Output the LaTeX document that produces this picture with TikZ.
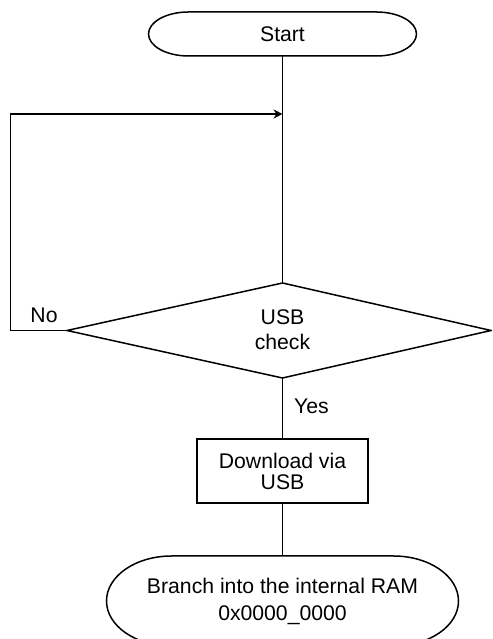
\documentclass[tikz,border=0pt]{standalone}
\usepackage{fontspec}
\setmainfont{Liberation Sans}
\usetikzlibrary{arrows.meta}
\tikzset{
  wire/.style={line width=1.5pt, line join=miter},
  lbl/.style={inner sep=0pt, outer sep=0pt, align=center, font=\fontsize{21.2pt}{25pt}\selectfont},
  tip/.style={-{Stealth[length=9pt,width=9pt,inset=3pt]}}
}
\begin{document}
\begin{tikzpicture}[x=1pt,y=1pt]
\clip (0,0) rectangle (492,639);
% Start terminator
\node[lbl, minimum width=268pt, minimum height=44pt] (start) at (282.5,605) {Start};
\draw[wire] ([xshift=40pt]start.north west) -- ([xshift=-40pt]start.north east)
  arc[start angle=90,end angle=-90,x radius=40pt,y radius=22pt]
  -- ([xshift=40pt]start.south west)
  arc[start angle=270,end angle=90,x radius=40pt,y radius=22pt] -- cycle;
% Decision
\coordinate (dtop) at (282.5,356);
\coordinate (dright) at (491,308.5);
\coordinate (dbot) at (282.5,261);
\coordinate (dleft) at (67,308.5);
\draw[wire] (dtop) -- (dright) -- (dbot) -- (dleft) -- cycle;
\node[lbl] (check) at (282.5,309) {USB\\check};
% Download box
\node[lbl, draw, wire, minimum width=171pt, minimum height=64pt, font=\fontsize{21.2pt}{21pt}\selectfont] (dl) at (282.5,168) {Download via\\USB};
% Final terminator
\node[lbl, minimum width=352pt, minimum height=90pt, font=\fontsize{21.2pt}{27pt}\selectfont] (ram) at (282.5,38) {Branch into the internal RAM\\0x0000\_0000};
\draw[wire] ([xshift=65pt]ram.north west) -- ([xshift=-65pt]ram.north east)
  arc[start angle=90,end angle=-90,x radius=65pt,y radius=45pt]
  -- ([xshift=65pt]ram.south west)
  arc[start angle=270,end angle=90,x radius=65pt,y radius=45pt] -- cycle;
% Connectors
\coordinate (loopin) at (282.5,525);
\coordinate (lc) at (10.5,525);
\draw[wire] (start.south) -- (dtop);
\draw[wire, tip] (dleft) -| (lc) -- (loopin);
\draw[wire] (dbot) -- (dl.north);
\draw[wire] (dl.south) -- (ram.north);
% Labels
\node[lbl] (no) at (44,323.5) {No};
\node[lbl] (yes) at (311.5,232.3) {Yes};
\end{tikzpicture}
\end{document}
